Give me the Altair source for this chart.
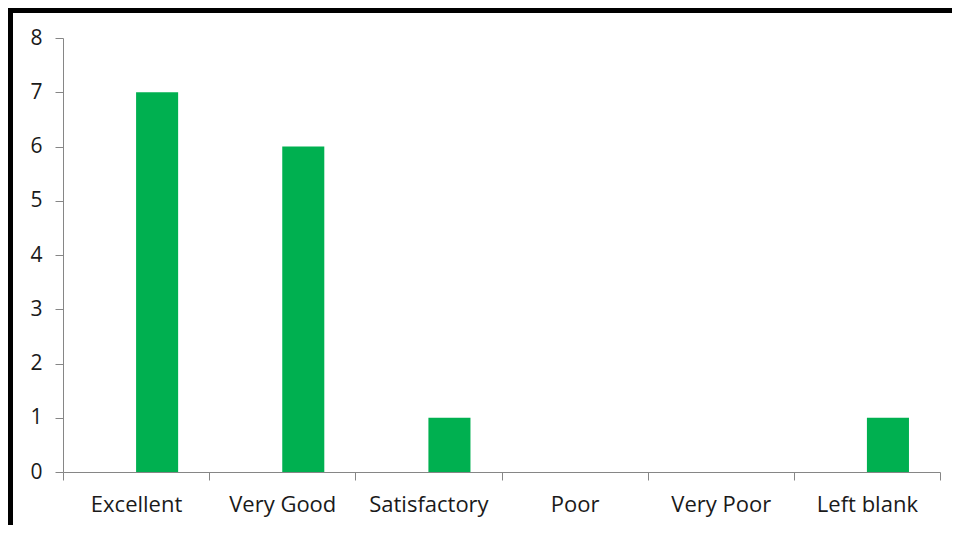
import altair as alt
import pandas as pd

categories = ["Excellent", "Very Good", "Satisfactory", "Poor", "Very Poor", "Left blank"]
counts = [7, 6, 1, 0, 0, 1]
series_domain = ["Series 1", "Series 2"]
series = "Series 2"

df = pd.DataFrame({"category": categories, "count": counts, "series": series})

W, H = 877, 434
PL, PT, PR, PB = 55, 30, 12, 53
FONT = "Open Sans"

x = alt.X("category:N", sort=categories, title=None,
          scale=alt.Scale(paddingInner=0, paddingOuter=0),
          axis=alt.Axis(labelAngle=0, tickBand="extent", domainColor="#868686",
                        tickColor="#868686", tickSize=8, labelPadding=14,
                        labelFontSize=22, labelColor="#1a1a1a", labelFont=FONT))
y = alt.Y("count:Q", title=None,
          scale=alt.Scale(domain=[0, 8], nice=False),
          axis=alt.Axis(values=list(range(9)), grid=False, domainColor="#868686",
                        tickColor="#868686", tickSize=8, labelPadding=13,
                        labelFontSize=21, labelColor="#1a1a1a", labelFont=FONT))

bars = alt.Chart(df).mark_bar(color="#00B050").encode(
    x=x, y=y,
    xOffset=alt.XOffset("series:N", scale=alt.Scale(domain=series_domain,
                                                    paddingInner=0, paddingOuter=0.738))
)

frame_df = pd.DataFrame({"k": [0]})
top_band = alt.Chart(frame_df).mark_rect(color="black", strokeWidth=0).encode(
    x=alt.value(-PL), x2=alt.value(W + PR), y=alt.value(-PT), y2=alt.value(5 - PT)
)
left_band = alt.Chart(frame_df).mark_rect(color="black", strokeWidth=0).encode(
    x=alt.value(-PL), x2=alt.value(5 - PL), y=alt.value(-PT), y2=alt.value(H + PB)
)

chart = alt.layer(bars, top_band, left_band).properties(
    width=W, height=H,
    autosize=alt.AutoSizeParams(type="none"),
    padding={"left": PL, "top": PT, "right": PR, "bottom": PB},
    background="white"
).configure_view(stroke=None)

chart.save("out.html", embed_options={"renderer": "svg", "actions": False})
